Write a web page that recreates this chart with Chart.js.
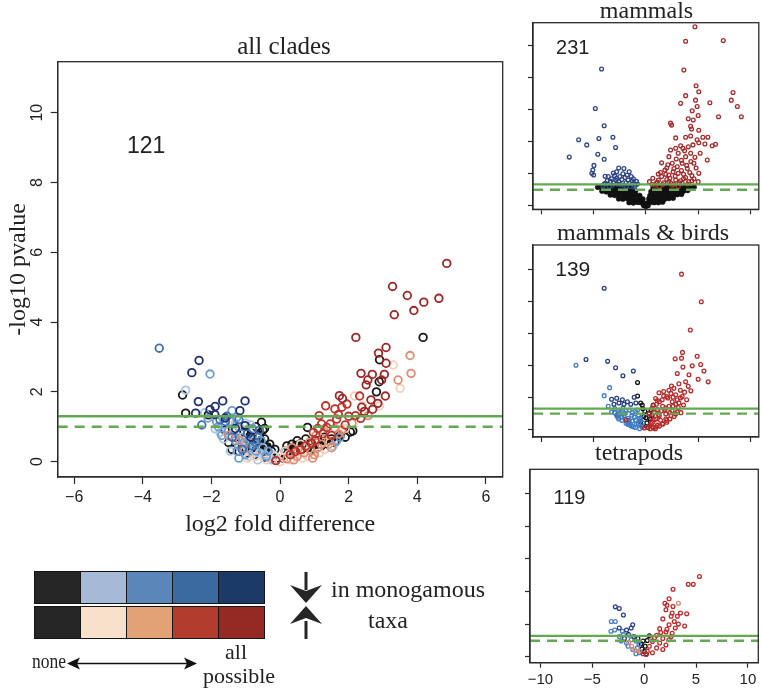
<!DOCTYPE html>
<html>
<head>
<meta charset="utf-8">
<title>volcano plots</title>
<script src="https://cdn.jsdelivr.net/npm/chart.js@4.4.1/dist/chart.umd.min.js"></script>
<style>
  body { margin: 0; background: #fff; }
  #page { position: relative; width: 762px; height: 689px; overflow: hidden; }
  #page canvas { position: absolute; left: 0; top: 0; }
  .keyrow { position: absolute; left: 34px; width: 231px; height: 33px; display: flex; box-sizing: border-box; border: 1.5px solid #151515; }
  .keyrow div { flex: 1; border-left: 1.5px solid #151515; }
  .keyrow div:first-child { border-left: none; }
  #keytext { position: absolute; left: 0; top: 0; }
</style>
</head>
<body>
<div id="page">
  <canvas id="main" width="762" height="689"></canvas>
  <canvas id="mammals" width="762" height="689"></canvas>
  <canvas id="birds" width="762" height="689"></canvas>
  <canvas id="tetrapods" width="762" height="689"></canvas>

  <div class="keyrow" style="top:571px">
    <div style="background:#262626"></div><div style="background:#a6bad8"></div><div style="background:#5a86ba"></div><div style="background:#3a6aa0"></div><div style="background:#1c3a68"></div>
  </div>
  <div class="keyrow" style="top:606px">
    <div style="background:#262626"></div><div style="background:#f7e1ca"></div><div style="background:#e2a276"></div><div style="background:#b23c2e"></div><div style="background:#952a24"></div>
  </div>

  <svg id="keytext" width="762" height="689" font-family="Liberation Serif, Times New Roman, serif" fill="#222">
    <!-- arrows -->
    <rect x="304.5" y="572" width="3" height="18" fill="#262626"/>
    <path d="M306 603 L290 585 L306 591 L322 585 Z" fill="#262626"/>
    <rect x="304.5" y="621" width="3" height="18" fill="#262626"/>
    <path d="M306 606 L290 624 L306 618 L322 624 Z" fill="#262626"/>
    <line x1="74" y1="663.5" x2="190" y2="663.5" stroke="#111" stroke-width="1.6"/>
    <path d="M67 663.5 L80 657.5 L77 663.5 L80 669.5 Z" fill="#111"/>
    <path d="M197 663.5 L184 657.5 L187 663.5 L184 669.5 Z" fill="#111"/>
    <text x="408" y="597" font-size="24" text-anchor="middle">in monogamous</text>
    <text x="388" y="628" font-size="24" text-anchor="middle">taxa</text>
    <text x="32" y="668" font-size="21" textLength="34" lengthAdjust="spacingAndGlyphs">none</text>
    <text x="236" y="659" font-size="22" text-anchor="middle">all</text>
    <text x="239" y="683" font-size="22" text-anchor="middle">possible</text>
  </svg>
</div>

<script>
// ---- data: [log2 fold difference, -log10 pvalue] ----

// all clades
const mainNavy = [[-2.36,2.9],[-2.57,2.55],[-2.38,1.72],[-2.46,1.39],[-1.67,1.74],[-1.02,1.74],[-1.89,1.58],[-2.04,1.49],[-1.17,1.46],[-1.02,1.03],[-1.9,1.35],[-1.3,0.95],[-0.85,0.7],[-1.6,1.25]];
const mainBlue3 = [[-3.52,3.25],[-2.28,1.05],[-1.59,1.15],[-1.55,1.3],[-1.2,1.2],[-0.95,0.8],[-1.4,0.7],[-0.8,0.45],[-1.1,0.35],[-0.6,0.9],[-1.75,1.2],[-0.7,0.55]];
const mainBlue2 = [[-2.04,2.51],[-2.1,1.25],[-1.8,1.0],[-1.4,1.46],[-1.26,1.27],[-1.5,0.9],[-1.3,0.6],[-1.15,0.8],[-0.9,0.55],[-0.7,0.3],[-1.0,0.2],[-0.55,0.6],[-0.4,0.15],[1.75,0.7],[1.65,0.6],[-1.7,0.75],[-0.8,0.95],[-1.2,0.1],
  [-1.45,1.15],[-1.05,0.55],[-0.65,0.7],[-0.35,0.3],[-1.85,1.15],[-1.25,0.3]];
const mainBlue1 = [[-2.75,2.05],[-2.2,1.4],[-1.89,0.94],[-1.75,0.84],[-1.6,1.05],[-1.35,0.85],[-1.2,0.45],[-0.95,0.4],[-0.75,0.6],[-0.6,0.25],[-0.3,0.1],[-1.0,1.1],[-0.85,1.05],[-0.5,0.4],[-0.25,0.05],[1.55,0.45],[-1.45,0.3],[-0.65,0.05],
  [-1.3,1.1],[-1.1,0.7],[-0.9,0.15],[-0.45,0.2],[-1.65,0.65],[-0.2,0.2],[-0.75,0.35]];
const mainRed4 = [[4.86,5.68],[3.28,5.02],[3.71,4.76],[4.63,4.68],[4.19,4.57],[3.9,4.33],[3.33,4.21],[2.21,3.56],[3.09,3.27],[2.87,3.11],[3.09,2.82],[2.36,2.53],[2.69,2.5],[3.04,2.5],[2.96,2.34],[2.51,2.2],[2.56,2.34],[3.07,1.88],[2.65,1.77],[2.85,1.67],[2.7,1.5],[2.38,1.56],[2.46,1.44],[1.73,1.89],[1.82,1.81]];
const mainRed3 = [[1.33,1.6],[2.32,1.88],[1.6,1.51],[1.8,1.56],[2.2,1.32],[2.35,1.24],[1.14,1.32],[1.21,1.08],[1.46,1.08],[1.65,1.22],[0.97,0.84],[1.36,0.98],[1.02,0.61],[0.93,0.52],[0.45,0.29],[0.3,0.2],[-0.12,0.03],[1.9,1.05],[2.0,1.3],[1.5,0.75],[1.25,0.8],[0.75,0.45],[0.6,0.35],[1.1,0.95],[1.7,1.35],[1.95,1.65]];
const mainRed2 = [[3.79,3.04],[3.82,2.53],[3.44,2.34],[2.57,1.32],[1.7,0.79],[-1.5,0.75],[-1.17,0.6],[-1.07,0.36],[1.4,0.6],[1.2,0.5],[0.9,0.3],[0.5,0.15],[0.7,0.25],[1.6,0.95],[2.1,1.1],[1.0,0.2],[0.2,0.08],[1.1,0.4],
  [0.35,0.4],[0.85,0.55],[1.05,0.75],[1.3,0.85],[1.5,0.4],[1.8,0.9],[0.4,0.05],[0.95,0.1]];
const mainRed1 = [[3.3,2.77],[2.17,1.88],[2.9,1.6],[0.0,0.0],[0.3,0.05],[0.5,0.3],[0.8,0.15],[1.3,0.35],[-0.15,0.15],[-0.4,0.05],[1.9,0.95],[2.4,1.6],[3.5,2.1],[-0.7,0.15],[-0.95,0.1],[0.1,0.12],[0.65,0.1],
  [0.15,0.3],[0.6,0.5],[1.15,0.25],[1.45,0.55],[0.25,0.2]];
const mainBlack = [[-2.84,1.91],[-2.75,1.39],[-2.09,1.34],[-0.54,1.13],[0.8,0.98],[2.12,0.88],[2.89,2.29],[2.9,2.92],[2.81,2.0],[4.17,3.56],[-0.45,0.95],
  [-1.5,0.55],[-1.4,0.35],[-1.3,0.7],[-1.2,0.3],[-1.1,0.5],[-1.05,0.85],[-0.95,0.25],[-0.9,0.6],[-0.85,0.4],[-0.8,0.9],[-0.75,0.2],[-0.7,0.55],[-0.65,0.35],[-0.6,0.75],[-0.55,0.5],[-0.5,0.25],[-0.45,0.65],[-0.4,0.4],[-0.35,0.2],[-0.3,0.5],[-0.25,0.3],[-0.2,0.15],[-0.15,0.35],[-0.1,0.1],[-0.5,0.9],[-0.7,1.0],[-1.2,1.0],[-1.6,0.9],
  [0.1,0.1],[0.15,0.3],[0.2,0.45],[0.3,0.2],[0.35,0.5],[0.45,0.35],[0.5,0.6],[0.6,0.3],[0.65,0.5],[0.75,0.65],[0.8,0.4],[0.9,0.55],[1.0,0.35],[1.1,0.6],[1.2,0.45],[1.3,0.7],[1.4,0.5],[1.5,0.65],[1.6,0.55],[1.75,0.75],[1.9,0.7],[2.05,0.85]];
// the solid-looking dark band along both arms of the V
const mainBlackCore = [[-0.9,0.75],[-0.8,0.6],[-0.7,0.5],[-0.6,0.4],[-0.5,0.3],[-0.4,0.2],[-0.3,0.12],[-0.2,0.06],[-0.85,0.45],[-0.65,0.3],[-0.45,0.1],[-0.55,0.65],[-0.35,0.45],
  [0.1,0.15],[0.2,0.25],[0.3,0.35],[0.4,0.45],[0.5,0.5],[0.6,0.55],[0.35,0.2],[1.3,0.55],[1.5,0.6],[1.7,0.7],[1.0,0.45]];

// mammals
const mamRed = [[4.69,27.97],[3.8,25.7],[7.4,25.8],[3.63,21.2],[4.8,18.75],[5.06,17.8],[3.8,17.2],[4.75,16.5],[8.33,17.7],[8.17,16.5],[8.75,15.5],[9.13,13.9],[6.95,13.9],[6.12,16.1],[3.32,16.0],[4.43,14.85],[4.9,15.5],[4.05,13.6],[4.53,13.4],[5.0,14.1],[2.36,12.9],[2.46,12.6],[4.28,12.4],[4.37,12.0],[5.06,11.8],[2.85,10.6],[3.8,10.7],[4.28,10.9],[5.45,10.7],[5.93,10.7],[5.06,9.85],[5.64,9.64],[6.34,9.38],[6.66,9.6],[3.32,9.38],[2.85,8.97],[2.36,8.7],[3.54,8.97],[4.05,9.2],[3.09,8.2],[4.28,8.2],[5.19,8.2],[2.2,7.67],[3.8,7.67],[4.69,7.56],[4.59,6.64],[5.87,7.14],[1.5,6.7],[2.52,6.64],[3.47,6.64],[1.82,5.57],[2.68,5.8],[3.96,5.8],[1.18,4.95],[2.2,4.8],[3.09,5.06],[5.06,5.06],[5.0,3.76],[0.34,3.76],[0.98,3.5],[2.2,3.76],[2.85,4.0],[3.47,3.5],[4.1,3.76],[0.66,4.3],[1.3,3.0],[3.1,3.0],[2.5,3.2],[3.8,4.4],[1.5,4.55],[4.2,5.2],[3.4,7.1],[2.0,5.9],[4.6,4.2],[1.7,3.6],[2.3,4.3],[3.6,4.9],
  [0.9,3.2],[1.2,4.0],[1.6,3.3],[2.0,4.1],[2.4,3.5],[2.8,4.6],[3.2,3.6],[3.6,4.2],[4.0,3.4],[4.4,3.9],[0.6,3.3],[1.4,5.2],[1.9,4.9],[2.6,5.3],[3.0,6.1],[3.4,5.5],[3.9,6.3],[4.3,6.9],[2.1,6.4],[2.9,7.3],[3.7,8.6],[4.5,9.5],[4.9,10.3],[1.1,3.7],[2.7,3.3],[3.3,3.9],[4.8,5.9],[4.4,4.7]];
const mamBlue = [[-4.24,21.36],[-4.84,15.2],[-3.99,12.5],[-6.43,10.3],[-5.66,9.5],[-4.5,10.5],[-3.16,10.7],[-2.9,9.1],[-7.33,7.6],[-4.6,8.05],[-3.99,7.27],[-4.97,6.3],[-5.08,5.57],[-5.17,5.06],[-5.0,4.8],[-3.6,4.55],[-3.12,5.1],[-2.8,5.3],[-2.1,5.8],[-2.5,4.55],[-1.7,4.0],[-1.4,4.55],[-3.86,3.5],[-3.2,3.2],[-2.6,3.76],[-2.1,3.2],[-1.5,3.0],[-1.15,3.5],[-2.9,4.0],[-1.8,4.8],[-1.0,3.2],[-3.5,3.0],[-4.0,3.4],[-2.3,4.1],[-3.3,4.2],[-1.3,3.9],[-2.7,3.4],[-1.9,3.6],[-0.8,3.4],
  [-3.9,4.6],[-3.4,3.8],[-3.0,4.7],[-2.6,5.9],[-2.4,3.3],[-2.0,4.4],[-1.6,5.3],[-1.2,4.2],[-1.1,2.9],[-3.7,3.9],[-3.1,3.6],[-2.2,5.0],[-1.6,3.5],[-2.8,4.3],[-1.9,3.0],[-0.9,3.8],[-4.1,3.1]];
const mamBlack = [[-4.6,2.9],[-4.2,3.0],[-3.8,2.8],[-3.4,2.9],[-3.0,2.85],[-2.6,2.9],[-2.2,2.8],[-1.8,2.9],[-1.4,2.8],
  [1.0,2.9],[1.4,3.0],[1.8,2.85],[2.2,2.9],[2.6,3.0],[3.0,2.9],[3.4,2.85],[3.8,2.9],[4.2,2.8],[4.6,2.9],
  [-4.2,2.3],[-3.8,2.2],[-3.4,2.35],[-3.0,2.25],[-2.6,2.3],[-2.2,2.2],[-1.8,2.3],[-1.4,2.2],[-1.0,2.3],
  [0.8,2.3],[1.2,2.25],[1.6,2.35],[2.0,2.2],[2.4,2.3],[2.8,2.25],[3.2,2.35],[3.6,2.3],[4.0,2.4],
  [-3.4,1.7],[-3.0,1.65],[-2.6,1.75],[-2.2,1.6],[-1.8,1.7],[-1.4,1.65],[-1.0,1.7],[-0.6,1.6],
  [0.6,1.7],[1.0,1.6],[1.4,1.75],[1.8,1.65],[2.2,1.7],[2.6,1.6],[3.0,1.75],[3.4,1.8],
  [-2.6,1.1],[-2.2,1.05],[-1.8,1.15],[-1.4,1.1],[-1.0,1.0],[-0.6,1.1],[-0.3,1.05],
  [0.3,1.1],[0.6,1.05],[1.0,1.15],[1.4,1.1],[1.8,1.05],[2.2,1.15],[2.6,1.2],
  [-1.6,0.5],[-1.2,0.45],[-0.8,0.55],[-0.5,0.5],[-0.2,0.4],[0.2,0.45],[0.5,0.55],[0.8,0.5],[1.2,0.5],[1.6,0.6],
  [-0.2,0.05],[0.0,-0.1],[0.2,0.05],[0.4,1.6],[0.5,2.2],[0.7,2.8]];

// mammals & birds
const mbRed = [[3.41,24.2],[5.3,19.9],[4.25,15.5],[3.5,12.0],[2.8,11.0],[3.41,11.1],[4.9,11.4],[5.24,10.1],[4.43,9.9],[5.55,9.1],[3.54,9.7],[4.12,8.5],[3.0,8.7],[5.0,7.8],[5.96,7.4],[2.45,6.75],[3.16,7.1],[3.8,7.4],[4.05,6.7],[4.3,6.0],[1.25,5.7],[1.7,5.9],[2.2,6.1],[2.68,6.4],[3.3,6.1],[2.0,5.1],[2.85,5.4],[3.47,5.1],[0.93,4.8],[1.56,4.6],[2.52,4.3],[3.16,4.1],[0.32,0.6],[0.64,1.1],[0.96,1.6],[1.28,2.1],[1.9,2.4],[2.5,2.9],[3.1,3.4],[0.5,1.85],[0.8,2.6],[1.1,3.1],[1.6,3.6],[2.2,3.6],[2.85,3.9],[1.4,1.4],[1.9,1.6],[2.4,2.1],[2.85,2.4],[3.35,2.6],[1.0,3.9],[0.16,0.3],[-0.16,0.2],[0.64,0.4],[1.1,0.65],[1.6,0.9],[2.0,1.4],[-1.88,1.45],[1.3,4.3],[2.6,5.0],[3.7,5.8],[3.9,4.6],[1.8,3.0],[2.3,2.6],[0.6,3.3],[3.6,3.8],
  [0.4,0.1],[0.7,0.2],[1.0,0.35],[1.3,0.5],[1.6,0.8],[2.0,1.1],[2.3,1.6],[2.7,2.0],[3.0,2.7],[0.5,0.9],[0.8,1.5],[1.2,2.3],[1.5,2.9],[1.9,3.3],[2.6,3.6],[3.0,4.6],[0.3,2.4],[0.7,3.7],[2.1,4.9],[1.7,5.2],[2.4,5.6],[3.3,4.9],[1.1,4.5],[0.9,0.1]];
const mbNavy = [[-3.99,22.0],[-5.73,10.9],[-3.66,10.6],[-2.9,9.6],[-2.2,8.35],[-1.2,9.1],[-3.28,4.7],[-2.79,4.85],[-2.25,4.6],[-1.77,4.3],[-1.12,5.0],[-1.45,3.9],[-2.58,4.1],[-2.1,3.9],[-0.96,4.1],[-3.06,3.9]];
const mbBlue = [[-6.69,10.0],[-3.47,6.5],[-3.99,5.25],[-3.6,3.6],[-3.28,2.7],[-2.8,2.2],[-2.3,1.9],[-1.7,1.7],[-1.0,1.45],[-0.72,0.9],[-0.4,0.4],[-2.6,2.9],[-2.0,2.5],[-1.35,2.2],[-0.7,2.2],[-1.5,0.9],[-1.2,0.4],[-1.8,1.2],[-2.45,2.7],[-0.8,3.0],[-2.95,3.2],[-1.0,2.8],[-2.2,3.3],[-1.6,3.0],[-0.5,1.5],[-2.6,1.6],[-1.3,1.3],[-0.3,1.0],
  [-3.0,2.6],[-2.7,1.9],[-2.3,1.4],[-1.9,0.95],[-1.6,0.7],[-1.4,0.5],[-1.0,0.3],[-0.6,0.1],[-2.5,2.4],[-2.1,2.1],[-1.6,1.4],[-1.1,1.9],[-0.6,1.7],[-1.9,2.9],[-1.3,2.6],[-0.9,0.8],[-1.7,0.75]];
const mbBlack = [[-0.5,4.1],[-0.8,5.2],[-0.8,7.3],[-0.3,3.2],[-0.2,2.0],[0.1,1.0],[0.3,2.5],[0.5,3.0],[-0.5,1.2],[0.2,0.3],[-0.35,3.8],[-2.7,2.2],[0.0,1.8],[-0.1,2.8],[0.4,1.6],[-0.3,0.5],[0.7,3.8],[0.6,2.2]];

// tetrapods
const tetRed = [[5.33,12.3],[4.25,11.1],[4.73,11.1],[2.78,10.35],[2.4,8.9],[2.0,8.2],[2.78,7.7],[3.5,6.7],[4.1,6.6],[3.9,4.7],[2.1,7.2],[2.6,6.2],[1.8,5.8],[2.9,5.4],[2.4,4.9],[3.0,4.4],[1.5,4.3],[2.1,3.8],[2.7,3.6],[1.2,3.3],[1.8,2.8],[2.4,2.6],[0.8,2.35],[1.5,2.1],[2.1,1.8],[0.5,1.6],[1.2,1.35],[1.8,1.1],[0.3,0.85],[0.8,0.6],[0.2,0.35],[-0.1,0.45],[3.2,6.2],[2.7,6.7],[2.2,7.9],[3.3,5.0],[2.2,4.2],[1.0,2.9],[2.6,3.1],[1.6,3.7]];
const tetSalmon = [[3.3,8.2],[0.7,2.6],[-0.4,0.85],[-1.2,1.6],[-1.5,2.2],[-0.9,1.0]];
const tetNavy = [[-2.78,7.65],[-2.4,7.4],[-2.0,6.4],[-1.1,4.9],[-1.25,4.4],[-2.4,4.4],[-1.7,4.1],[-1.9,2.8],[-1.0,3.1]];
const tetBlue = [[-3.17,5.4],[-2.78,5.4],[-3.2,3.9],[-2.84,4.1],[-2.1,3.9],[-2.4,3.1],[-1.45,3.3],[-2.2,2.4],[-1.7,2.1],[-1.25,2.6],[-0.8,2.4],[-1.55,1.6],[-1.1,1.1],[-0.65,1.35],[-0.45,0.6],[-0.8,0.45],[-2.0,3.4],[-0.5,1.9]];
const tetBlack = [[-0.2,1.2],[0.0,0.8],[-0.3,2.0],[0.1,1.6],[0.3,2.5],[-0.6,2.8],[0.5,3.2],[-0.1,2.4],[0.2,0.4],[-1.5,3.4]];

// significance cut-offs (solid, dashed) and gene counts
const mainCut = [1.301, 1.0];
const mamCut = [3.34, 2.5];
const mbCut = [3.23, 2.45];
const tetCut = [3.2, 2.44];
const counts = ['121', '231', '139', '119'];
const mainXTicks = [-6, -4, -2, 0, 2, 4, 6];
const smallXTicks = [-10, -5, 0, 5, 10];

const SANS = '"Liberation Sans", Arial, sans-serif';
const SERIF = '"Liberation Serif", "Times New Roman", serif';
const GREEN = '#64a853';

function ring(pts, color, r, w, filled) {
  return {
    data: pts.map(p => ({ x: p[0], y: p[1] })),
    pointRadius: r,
    pointHoverRadius: r,
    pointBorderWidth: w,
    pointBorderColor: color,
    pointBackgroundColor: filled ? color : 'rgba(0,0,0,0)'
  };
}

function cutLine(yv, xr, dashed) {
  return {
    type: 'line',
    data: [{ x: xr[0], y: yv }, { x: xr[1], y: yv }],
    borderColor: GREEN,
    borderWidth: 2.4,
    borderDash: dashed ? [10, 7] : [],
    pointRadius: 0
  };
}

// box, titles, count label and rotated y labels
const panelText = {
  id: 'panelText',
  afterDraw(chart, args, o) {
    const { ctx, chartArea: a, scales } = chart;
    ctx.save();
    ctx.strokeStyle = '#2b2b2b';
    ctx.lineWidth = 1.3;
    ctx.strokeRect(a.left, a.top, a.right - a.left, a.bottom - a.top);
    ctx.fillStyle = '#222';
    ctx.textAlign = 'center';
    ctx.textBaseline = 'alphabetic';
    ctx.font = o.titleSize + 'px ' + SERIF;
    ctx.fillText(o.title, o.titleX, o.titleY);
    ctx.font = o.countSize + 'px ' + SANS;
    ctx.textBaseline = 'middle';
    ctx.fillText(o.count, scales.x.getPixelForValue(o.countAt[0]), scales.y.getPixelForValue(o.countAt[1]));
    if (o.xTitle) {
      ctx.textBaseline = 'alphabetic';
      ctx.font = '24px ' + SERIF;
      ctx.fillText(o.xTitle, (a.left + a.right) / 2, o.xTitleY);
    }
    if (o.yTitle) {
      ctx.save();
      ctx.translate(o.yTitleX, (a.top + a.bottom) / 2);
      ctx.rotate(-Math.PI / 2);
      ctx.textBaseline = 'alphabetic';
      ctx.font = '24px ' + SERIF;
      ctx.fillText(o.yTitle, 0, 0);
      ctx.restore();
    }
    if (o.yLabelX) {
      ctx.font = '16px ' + SANS;
      ctx.textBaseline = 'middle';
      scales.y.ticks.forEach(t => {
        ctx.save();
        ctx.translate(o.yLabelX, scales.y.getPixelForValue(t.value));
        ctx.rotate(-Math.PI / 2);
        ctx.fillText(String(t.value), 0, 0);
        ctx.restore();
      });
    }
    ctx.restore();
  }
};

function makePanel(id, area, xr, yr, yStep, xTicks, showXLabels, tickLen, datasets, text) {
  return new Chart(document.getElementById(id), {
    type: 'scatter',
    data: { datasets },
    options: {
      responsive: false,
      animation: false,
      devicePixelRatio: 1,
      events: [],
      layout: { padding: { left: 0, top: area.t, right: 762 - area.r, bottom: 0 } },
      plugins: { legend: { display: false }, tooltip: { enabled: false }, panelText: text },
      scales: {
        x: {
          type: 'linear', min: xr[0], max: xr[1],
          afterFit: s => { s.height = 689 - area.b; },
          afterBuildTicks: s => { s.ticks = xTicks.map(v => ({ value: v })); },
          ticks: {
            display: showXLabels, autoSkip: false, maxRotation: 0, padding: text.xPad || 3,
            color: '#222', font: { family: SANS, size: text.xFont || 16 },
            callback: v => String(v).replace('-', '\u2212')
          },
          grid: { display: true, drawOnChartArea: false, drawTicks: true, tickLength: tickLen, tickColor: '#2b2b2b', tickWidth: 1.2 },
          border: { display: true, color: '#2b2b2b', width: 1.3 }
        },
        y: {
          type: 'linear', min: yr[0], max: yr[1],
          afterFit: s => { s.width = area.l; },
          ticks: { display: false, stepSize: yStep, includeBounds: false },
          grid: { display: true, drawOnChartArea: false, drawTicks: true, tickLength: tickLen, tickColor: '#2b2b2b', tickWidth: 1.2 },
          border: { display: true, color: '#2b2b2b', width: 1.3 }
        }
      }
    },
    plugins: [panelText]
  });
}

// main panel
const mainX = [-6.48, 6.49];
makePanel('main', { l: 57.7, t: 61.7, r: 502.7, b: 477 }, mainX, [-0.44, 11.46], 2, mainXTicks, true, 7, [
  cutLine(mainCut[0], mainX, false),
  cutLine(mainCut[1], mainX, true),
  ring(mainRed4, '#9e2626', 3.8, 1.8),
  ring(mainNavy, '#1f2f6e', 3.8, 1.8),
  ring(mainRed3, '#bd332c', 3.8, 1.8),
  ring(mainBlue3, '#3e70b1', 3.8, 1.8),
  ring(mainRed2, '#e08c72', 3.8, 1.8),
  ring(mainBlue2, '#6a9cd2', 3.8, 1.8),
  ring(mainRed1, '#f2cfbc', 3.8, 1.8),
  ring(mainBlue1, '#a9c6e4', 3.8, 1.8),
  ring(mainBlack, '#161616', 3.8, 1.8),
  ring(mainBlackCore, '#161616', 3.2, 1, true)
], {
  title: 'all clades', titleSize: 25, titleX: 284, titleY: 54,
  count: counts[0], countSize: 23, countAt: [-3.9, 9.03],
  xTitle: 'log2 fold difference', xTitleY: 531,
  yTitle: '-log10 pvalue', yTitleX: 25, yLabelX: 38, xPad: 4
});

// mammals
const smallX = [-10.8, 10.8];
makePanel('mammals', { l: 533, t: 22.7, r: 759, b: 209.3 }, smallX, [-0.56, 28.6], 5, smallXTicks, false, 5, [
  cutLine(mamCut[0], smallX, false),
  cutLine(mamCut[1], smallX, true),
  ring(mamRed, '#a52a2a', 1.9, 1.3),
  ring(mamBlue, '#2d4585', 1.9, 1.3),
  ring(mamBlack, '#111', 2.6, 0.5, true)
], {
  title: 'mammals', titleSize: 24, titleX: 646.5, titleY: 17.5,
  count: counts[1], countSize: 20, countAt: [-7.0, 24.6]
});

// mammals & birds
makePanel('birds', { l: 533, t: 245, r: 759, b: 437 }, smallX, [-1.2, 28.75], 5, smallXTicks, false, 5, [
  cutLine(mbCut[0], smallX, false),
  cutLine(mbCut[1], smallX, true),
  ring(mbRed, '#b82a2a', 1.9, 1.3),
  ring(mbNavy, '#263d82', 1.9, 1.3),
  ring(mbBlue, '#3d7cc6', 1.9, 1.3),
  ring(mbBlack, '#111', 1.9, 1.3)
], {
  title: 'mammals & birds', titleSize: 24, titleX: 643, titleY: 240,
  count: counts[2], countSize: 21, countAt: [-7.0, 24.8]
});

// tetrapods
const tetX = [-11, 11];
makePanel('tetrapods', { l: 530, t: 469.3, r: 758.3, b: 662.7 }, tetX, [-0.92, 28.75], 5, smallXTicks, true, 5, [
  cutLine(tetCut[0], tetX, false),
  cutLine(tetCut[1], tetX, true),
  ring(tetRed, '#c0292a', 1.9, 1.3),
  ring(tetSalmon, '#d98a70', 1.9, 1.3),
  ring(tetNavy, '#2b3f8a', 1.9, 1.3),
  ring(tetBlue, '#4a7fc0', 1.9, 1.3),
  ring(tetBlack, '#111', 1.9, 1.3)
], {
  title: 'tetrapods', titleSize: 24, titleX: 639, titleY: 460,
  count: counts[3], countSize: 20, countAt: [-7.2, 24.2], xPad: 0, xFont: 15
});
</script>
</body>
</html>
